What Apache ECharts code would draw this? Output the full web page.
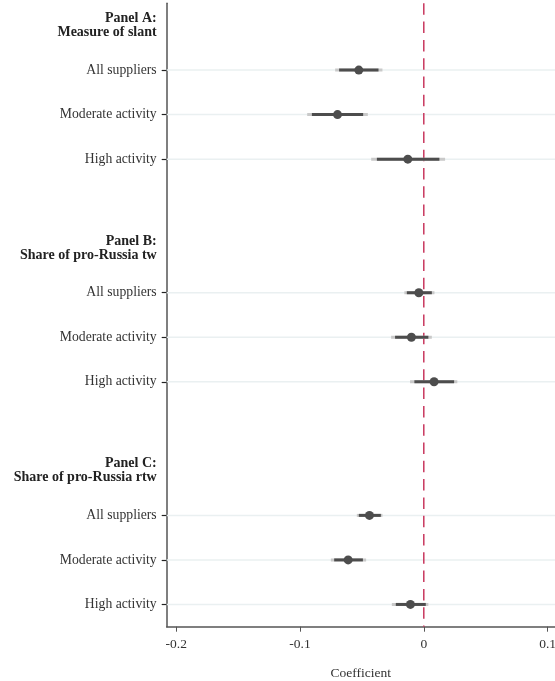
<!DOCTYPE html>
<html>
<head>
<meta charset="utf-8">
<script src="https://cdn.jsdelivr.net/npm/echarts@6/dist/echarts.min.js"></script>
<style>html,body{margin:0;padding:0;background:#fff;}#c{width:555px;height:681px;}</style>
</head>
<body>
<div id="c"></div>
<script>
// Row labels (top to bottom); headers contain "\n", blanks are ''
var rowLabels = [
  'Panel A:\nMeasure of slant', 'All suppliers', 'Moderate activity', 'High activity', '',
  'Panel B:\nShare of pro-Russia tw', 'All suppliers', 'Moderate activity', 'High activity', '',
  'Panel C:\nShare of pro-Russia rtw', 'All suppliers', 'Moderate activity', 'High activity'
];
var isHeader = [true,false,false,false,false, true,false,false,false,false, true,false,false,false];
// Point estimates
var estimate = [null,-0.0525,-0.0697,-0.0129,null, null,-0.0040,-0.0100,0.0083,null, null,-0.0439,-0.0611,-0.0108];
// Inner (dark) interval
var lowInner  = [null,-0.0684,-0.0904,-0.0379,null, null,-0.0137,-0.0232,-0.0076,null, null,-0.0525,-0.0724,-0.0226];
var highInner = [null,-0.0366,-0.0490, 0.0126,null, null, 0.0065, 0.0037, 0.0245,null, null,-0.0347,-0.0492, 0.0016];
// Outer (light) interval
var lowOuter  = [null,-0.0716,-0.0942,-0.0425,null, null,-0.0157,-0.0264,-0.0111,null, null,-0.0541,-0.0751,-0.0258];
var highOuter = [null,-0.0334,-0.0452, 0.0172,null, null, 0.0086, 0.0065, 0.0271,null, null,-0.0334,-0.0466, 0.0037];
var xTicks = [-0.2, -0.1, 0, 0.1];
var refValue = [0];

var FONT = 'Liberation Serif';
var outer = [], inner = [], pts = [], rows = [];
for (var i = 0; i < rowLabels.length; i++) {
  if (estimate[i] === null) continue;
  outer.push([lowOuter[i], highOuter[i], i]);
  inner.push([lowInner[i], highInner[i], i]);
  pts.push([estimate[i], i]);
  rows.push([0, i]);
}
function ciRender(color) {
  return function (params, api) {
    var a = api.coord([api.value(0), api.value(2)]);
    var b = api.coord([api.value(1), api.value(2)]);
    return { type: 'line', shape: { x1: a[0], y1: a[1], x2: b[0], y2: b[1] },
      style: { stroke: color, lineWidth: 3, lineCap: 'butt' } };
  };
}
var chart = echarts.init(document.getElementById('c'), null, { renderer: 'canvas' });
chart.setOption({
  animation: false,
  backgroundColor: '#ffffff',
  grid: { left: 166.7, right: 0, top: 3.3, bottom: 54.3, containLabel: false, outerBoundsMode: 'none' },
  xAxis: {
    type: 'value', min: -0.2077, max: 0.106,
    name: 'Coefficient', nameLocation: 'middle', nameGap: 40,
    nameTextStyle: { fontFamily: FONT, fontSize: 13.5, color: '#333' },
    axisLine: { show: true, onZero: false, lineStyle: { color: '#555', width: 1.5 } },
    axisTick: { show: true, length: 5, lineStyle: { color: '#555' }, customValues: xTicks },
    axisLabel: { customValues: xTicks, fontFamily: FONT, fontSize: 13.5, color: '#333', margin: 11,
      formatter: function (v) { return String(Math.round(v * 10) / 10); } },
    splitLine: { show: false }
  },
  yAxis: {
    type: 'category', inverse: true, data: rowLabels,
    axisLine: { show: true, onZero: false, lineStyle: { color: '#555', width: 1.5 } },
    axisTick: { show: true, length: 5, alignWithLabel: true, lineStyle: { color: '#222', width: 1.2 },
      interval: function (idx) { return estimate[idx] !== null; } },
    axisLabel: {
      interval: 0, margin: 10, fontFamily: FONT, fontSize: 13.7, color: '#333', lineHeight: 14,
      formatter: function (v, idx) {
        if (isHeader[idx]) {
          return v.split('\n').map(function (s) { return '{h|' + s + '}'; }).join('\n');
        }
        return v;
      },
      rich: { h: { fontFamily: FONT, fontSize: 14, fontWeight: 'bold', color: '#222', align: 'right', lineHeight: 14 } }
    },
    splitLine: { show: false }
  },
  series: [
    {
      type: 'custom', z: 1, data: rows, encode: { x: 0, y: 1 },
      renderItem: function (params, api) {
        var p = api.coord([0, api.value(1)]);
        var cs = params.coordSys;
        return { type: 'line', shape: { x1: cs.x, y1: p[1], x2: cs.x + cs.width, y2: p[1] },
          style: { stroke: '#eaf0f1', lineWidth: 1.5 } };
      }
    },
    {
      type: 'custom', z: 2, data: refValue.map(function (v) { return [v, 0]; }), encode: { x: 0, y: 1 },
      renderItem: function (params, api) {
        var p = api.coord([api.value(0), 0]);
        var cs = params.coordSys;
        return { type: 'line', shape: { x1: p[0], y1: cs.y, x2: p[0], y2: cs.y + cs.height },
          style: { stroke: '#c9385f', lineWidth: 1.5, lineDash: [11.5, 6.8] } };
      }
    },
    { type: 'custom', z: 3, data: outer, encode: { x: [0, 1], y: 2 }, renderItem: ciRender('#c9c9c9') },
    { type: 'custom', z: 4, data: inner, encode: { x: [0, 1], y: 2 }, renderItem: ciRender('#4d4d4d') },
    { type: 'scatter', z: 5, data: pts, symbol: 'circle', symbolSize: 9,
      itemStyle: { color: '#4d4d4d', opacity: 1 } }
  ]
});
</script>
</body>
</html>
